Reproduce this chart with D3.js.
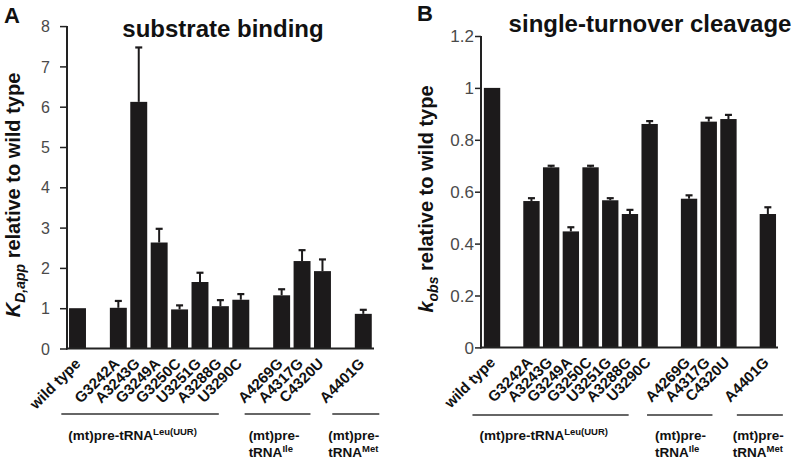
<!DOCTYPE html>
<html><head><meta charset="utf-8">
<script src="https://cdn.jsdelivr.net/npm/d3@7"></script>
<style>
body{margin:0;background:#fff;}
svg{display:block;font-family:"Liberation Sans",Arial,Helvetica,sans-serif;}
</style></head>
<body>
<svg id="chart" width="800" height="459"></svg>
<script>
// ---------- data ----------
const slots = ["wild type","gap1","G3242A","A3243G","G3249A","G3250C","U3251G","A3288G","U3290C","gap2","A4269G","A4317G","C4320U","gap3","A4401G"];
const mutants = ["wild type","G3242A","A3243G","G3249A","G3250C","U3251G","A3288G","U3290C","A4269G","A4317G","C4320U","A4401G"];
const kdValues  = [1.00,1.01,6.12,2.63,0.97,1.65,1.05,1.21,1.32,2.17,1.92,0.86];
const kdErrors  = [0.00,0.17,1.35,0.34,0.10,0.23,0.15,0.14,0.15,0.27,0.29,0.10];
const kobsValues = [1.00,0.564,0.694,0.447,0.694,0.567,0.514,0.861,0.573,0.870,0.880,0.514];
const kobsErrors = [0.00,0.011,0.006,0.016,0.006,0.008,0.016,0.011,0.013,0.015,0.016,0.026];
const kdTicks = [0,1,2,3,4,5,6,7,8];
const kobsTicks = [0,0.2,0.4,0.6,0.8,1,1.2];
const groups = [
  {first:"G3242A", last:"U3290C", lines:["(mt)pre-tRNA"], sup:"Leu(UUR)"},
  {first:"A4269G", last:"C4320U", lines:["(mt)pre-","tRNA"], sup:"Ile"},
  {first:"A4401G", last:"A4401G", lines:["(mt)pre-","tRNA"], sup:"Met"}
];

const svg = d3.select("#chart");
const barColor = "#1c1a1b";

function panel(cfg){
  const g = svg.append("g");
  const x = d3.scaleBand().domain(slots).range(cfg.xRange).padding(0);
  const y = d3.scaleLinear().domain(cfg.yDomain).range(cfg.yRange);
  const bw = x.bandwidth()*0.83;
  const cx = d => x(d)+x.bandwidth()/2;
  const data = mutants.map((m,i)=>({m, v:cfg.values[i], e:cfg.errors[i]}));

  // bars
  g.selectAll("rect.bar").data(data).join("rect")
    .attr("x", d=>cx(d.m)-bw/2).attr("width", bw)
    .attr("y", d=>y(d.v)).attr("height", d=>y(0)-y(d.v))
    .attr("fill", barColor);
  // error bars (upper only)
  const eb = data.filter(d=>d.e>0);
  g.selectAll("line.err").data(eb).join("line")
    .attr("x1", d=>cx(d.m)).attr("x2", d=>cx(d.m))
    .attr("y1", d=>y(d.v)).attr("y2", d=>y(d.v+d.e))
    .attr("stroke", barColor).attr("stroke-width", 2);
  g.selectAll("line.cap").data(eb).join("line")
    .attr("x1", d=>cx(d.m)-3.5).attr("x2", d=>cx(d.m)+3.5)
    .attr("y1", d=>y(d.v+d.e)).attr("y2", d=>y(d.v+d.e))
    .attr("stroke", barColor).attr("stroke-width", 2.2);

  // y axis
  const ax = g.append("g").attr("transform",`translate(${cfg.axisX},0)`)
    .call(d3.axisLeft(y).tickValues(cfg.ticks).tickSize(cfg.tickSize).tickPadding(cfg.tickPad).tickFormat(d3.format("~g")));
  ax.select(".domain").attr("stroke","#222").attr("stroke-width",2).attr("d",`M0,${y(cfg.yDomain[1])}V${y(0)+1}`);
  ax.selectAll(".tick line").attr("stroke","#222").attr("stroke-width",1.5);
  ax.selectAll(".tick text").attr("fill","#4a4a4a").style("font-size",cfg.tickFont+"px").attr("dy","0.35em");
  // x axis baseline
  g.append("line").attr("x1",cfg.axisX-1).attr("x2",cfg.xEnd).attr("y1",y(0)).attr("y2",y(0))
    .attr("stroke","#222").attr("stroke-width",2);

  // category labels
  g.selectAll("text.cat").data(mutants).join("text")
    .attr("transform", d=>`translate(${cx(d)+(d==="wild type"?4:2)},${y(0)+16}) rotate(-45)`)
    .attr("text-anchor","end").attr("font-weight","bold").style("font-size","15px")
    .attr("fill","#111").text(d=>d);

  // group lines + labels
  groups.forEach((gr,i)=>{
    const o = cfg.groupLine[i];
    g.append("line").attr("x1",cx(gr.first)+o[0]).attr("x2",cx(gr.last)+o[1])
      .attr("y1",cfg.groupLineY).attr("y2",cfg.groupLineY).attr("stroke","#333").attr("stroke-width",1.6);
    const tx = cx(gr.first)+cfg.groupText[i];
    gr.lines.forEach((ln,j)=>{
      const t = g.append("text").attr("x",tx).attr("y",cfg.groupTextY+j*16.5)
        .attr("font-weight","bold").style("font-size","13.5px").attr("fill","#111");
      t.append("tspan").text(ln);
      if(j===gr.lines.length-1){
        t.append("tspan").attr("dy",-5).style("font-size","9.5px").text(gr.sup);
      }
    });
  });

  // title
  g.append("text").attr("x",cfg.titleX).attr("y",cfg.titleY).attr("text-anchor","middle")
    .attr("font-weight","bold").style("font-size","24px").attr("fill","#111").text(cfg.title);
  // panel letter
  g.append("text").attr("x",cfg.letterX).attr("y",cfg.letterY)
    .attr("font-weight","bold").style("font-size","22px").attr("fill","#111").text(cfg.letter);
  // y label
  const yl = g.append("text").attr("transform",`translate(${cfg.ylabX},${cfg.ylabY}) rotate(-90)`)
    .attr("text-anchor","middle").attr("font-weight","bold").style("font-size","20px").attr("fill","#111");
  yl.append("tspan").attr("font-style","italic").text(cfg.ylabMain);
  yl.append("tspan").attr("font-style","italic").attr("dy",5).style("font-size","14px").text(cfg.ylabSub);
  yl.append("tspan").attr("dy",-5).text(" relative to wild type");
}

panel({
  xRange:[67.3,373.5], yDomain:[0,8], yRange:[348.5,26.1], values:kdValues, errors:kdErrors,
  axisX:67, xEnd:374, ticks:kdTicks, tickSize:7, tickPad:10, tickFont:16,
  groupLine:[[-57,-22],[-37,-12],[-31,16]], groupLineY:414,
  groupText:[-50,-33,-35], groupTextY:440,
  title:"substrate binding", titleX:223, titleY:37, letter:"A", letterX:4, letterY:23,
  ylabMain:"K", ylabSub:"D,app", ylabX:19.5, ylabY:195
});
panel({
  xRange:[482.2,777.7], yDomain:[0,1.2], yRange:[347.4,36], values:kobsValues, errors:kobsErrors,
  axisX:481, xEnd:778, ticks:kobsTicks, tickSize:6, tickPad:1, tickFont:17,
  groupLine:[[-59,-21],[-42,-16],[-31,15]], groupLineY:415,
  groupText:[-52,-34,-35], groupTextY:440,
  title:"single-turnover cleavage", titleX:650, titleY:32, letter:"B", letterX:417, letterY:21,
  ylabMain:"k", ylabSub:"obs", ylabX:433, ylabY:199
});
</script>
</body></html>
